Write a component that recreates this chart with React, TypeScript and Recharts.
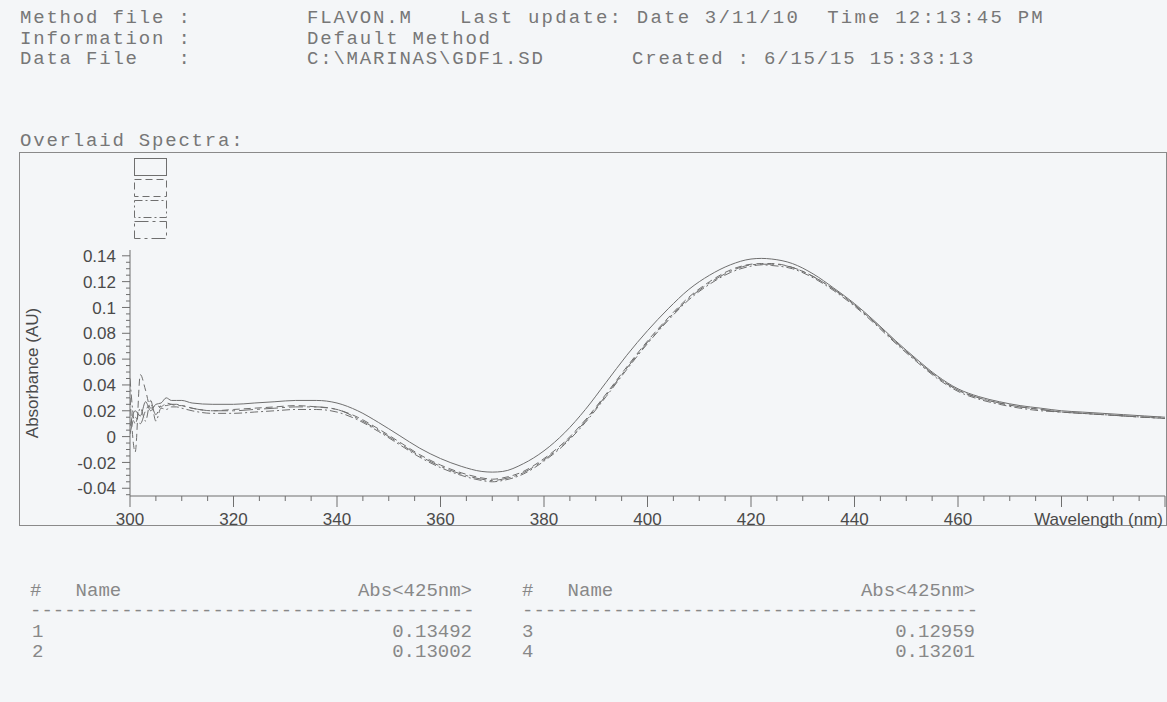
import React from "react";
import { LineChart, Line, XAxis, YAxis, Legend, Label } from "recharts";

// wavelength (nm) of every sample
const wavelengths = [
  300, 301, 302, 303, 304, 305, 306, 307, 308, 309, 310, 312, 316, 320, 324,
  328, 332, 336, 340, 344, 348, 352, 356, 360, 364, 368, 370, 372, 376, 380,
  384, 388, 392, 396, 400, 404, 408, 412, 416, 420, 422, 424, 428, 432, 436,
  440, 444, 448, 452, 456, 460, 464, 468, 472, 476, 480, 484, 488, 492, 496,
  500,
];

// absorbance (AU) of the four overlaid spectra
const abs1 = [
  0.008, 0.02, 0.016, 0.027, 0.02, 0.025, 0.026, 0.03, 0.028, 0.028, 0.028,
  0.026, 0.025, 0.025, 0.026, 0.027, 0.028, 0.028, 0.026, 0.02, 0.011, 0.001,
  -0.009, -0.017, -0.023, -0.027, -0.0275, -0.027, -0.021, -0.011, 0.003,
  0.021, 0.042, 0.063, 0.082, 0.099, 0.114, 0.125, 0.133, 0.1375, 0.138,
  0.1375, 0.134, 0.126, 0.115, 0.103, 0.089, 0.074, 0.06, 0.047, 0.037, 0.031,
  0.027, 0.024, 0.022, 0.02, 0.019, 0.018, 0.017, 0.016, 0.015,
];
const abs2 = [
  0.03, -0.012, 0.048, 0.036, 0.022, 0.024, 0.023, 0.026, 0.025, 0.024, 0.024,
  0.022, 0.02, 0.021, 0.022, 0.023, 0.024, 0.023, 0.021, 0.015, 0.006, -0.004,
  -0.014, -0.022, -0.028, -0.032, -0.033, -0.032, -0.027, -0.017, -0.004,
  0.013, 0.033, 0.054, 0.074, 0.092, 0.108, 0.12, 0.129, 0.1335, 0.134, 0.134,
  0.131, 0.124, 0.114, 0.102, 0.088, 0.073, 0.059, 0.046, 0.036, 0.03, 0.026,
  0.023, 0.021, 0.019, 0.018, 0.017, 0.016, 0.015, 0.014,
];
const abs3 = [
  0.045, 0.01, 0.022, 0.012, 0.028, 0.012, 0.022, 0.021, 0.023, 0.023, 0.022,
  0.02, 0.018, 0.018, 0.019, 0.02, 0.021, 0.021, 0.019, 0.013, 0.004, -0.006,
  -0.016, -0.024, -0.03, -0.034, -0.035, -0.034, -0.029, -0.019, -0.006,
  0.011, 0.031, 0.052, 0.072, 0.09, 0.106, 0.118, 0.127, 0.132, 0.133, 0.1325,
  0.13, 0.123, 0.113, 0.101, 0.087, 0.072, 0.058, 0.045, 0.035, 0.029, 0.025,
  0.022, 0.02, 0.019, 0.018, 0.017, 0.016, 0.015, 0.014,
];
const abs4 = [
  0.002, 0.015, 0.01, 0.02, 0.025, 0.017, 0.024, 0.024, 0.025, 0.025, 0.024,
  0.022, 0.02, 0.02, 0.021, 0.022, 0.023, 0.023, 0.021, 0.014, 0.005, -0.005,
  -0.015, -0.023, -0.029, -0.033, -0.034, -0.033, -0.028, -0.018, -0.005,
  0.012, 0.032, 0.053, 0.073, 0.091, 0.107, 0.119, 0.128, 0.133, 0.1335,
  0.1335, 0.131, 0.124, 0.114, 0.102, 0.088, 0.073, 0.059, 0.046, 0.036, 0.03,
  0.026, 0.023, 0.021, 0.019, 0.018, 0.017, 0.016, 0.015, 0.015,
];

const xTicks = [
  300, 305, 310, 315, 320, 325, 330, 335, 340, 345, 350, 355, 360, 365, 370,
  375, 380, 385, 390, 395, 400, 405, 410, 415, 420, 425, 430, 435, 440, 445,
  450, 455, 460, 465, 470, 475, 480, 485, 490, 495, 500,
];
const xMajorTicks = [300, 320, 340, 360, 380, 400, 420, 440, 460, 480, 500];
const xLabelTicks = [300, 320, 340, 360, 380, 400, 420, 440, 460];

const yTicks = [
  -0.045, -0.04, -0.035, -0.03, -0.025, -0.02, -0.015, -0.01, -0.005, 0, 0.005,
  0.01, 0.015, 0.02, 0.025, 0.03, 0.035, 0.04, 0.045, 0.05, 0.055, 0.06, 0.065,
  0.07, 0.075, 0.08, 0.085, 0.09, 0.095, 0.1, 0.105, 0.11, 0.115, 0.12, 0.125,
  0.13, 0.135, 0.14,
];
const yMajorTicks = [-0.04, -0.02, 0, 0.02, 0.04, 0.06, 0.08, 0.1, 0.12, 0.14];

const headerLabels = ["Method file :", "Information :", "Data File   :"];
const headerValues = ["FLAVON.M", "Default Method", "C:\\MARINAS\\GDF1.SD"];
const lastUpdate = "Last update: Date 3/11/10  Time 12:13:45 PM";
const created = "Created : 6/15/15 15:33:13";

const resultNames = ["1", "2", "3", "4"];
const resultAbs = ["0.13492", "0.13002", "0.12959", "0.13201"];

const seriesKeys = ["s1", "s2", "s3", "s4"];
const seriesDash = ["", "7 4", "8 3 2 3", "14 4 3 4"];

const data = wavelengths.map((nm, i) => ({
  nm,
  s1: abs1[i],
  s2: abs2[i],
  s3: abs3[i],
  s4: abs4[i],
}));

const ink = "#6f6f6f";
const axisFont = "'Liberation Sans', Arial, sans-serif";
const monoFont = "'Liberation Mono', 'Courier New', monospace";

const XTick = (props: any) => {
  const { x, y, payload } = props;
  const v = payload.value;
  const major = xMajorTicks.includes(v);
  return (
    <g>
      <line x1={x} x2={x} y1={y} y2={y + (major ? 11 : 5)} stroke={ink} />
      {xLabelTicks.includes(v) && (
        <text x={x} y={y + 29} textAnchor="middle" fontSize={17} fill="#4a4a4a" fontFamily={axisFont}>
          {v}
        </text>
      )}
    </g>
  );
};

const YTick = (props: any) => {
  const { x, y, payload } = props;
  const v = payload.value;
  const major = yMajorTicks.includes(v);
  return (
    <g>
      <line x1={x - (major ? 8 : 4)} x2={x} y1={y} y2={y} stroke={ink} />
      {major && (
        <text x={x - 14} y={y} dy="0.36em" textAnchor="end" fontSize={17} fill="#4a4a4a" fontFamily={axisFont}>
          {String(Math.round(v * 100) / 100)}
        </text>
      )}
    </g>
  );
};

const LegendBoxes = () => (
  <svg width={34} height={84} style={{ display: "block" }}>
    {seriesDash.map((d, i) => (
      <rect
        key={i}
        x={0.5}
        y={0.5 + i * 21}
        width={32}
        height={17}
        fill="none"
        stroke={ink}
        strokeDasharray={d || undefined}
      />
    ))}
  </svg>
);

// monospaced text; pitch keeps the printer's character spacing
const Mono = ({ x, y, size, pitch, text, right, color }: any) => (
  <div
    style={{
      position: "absolute",
      left: x,
      top: y,
      fontFamily: monoFont,
      fontSize: size,
      lineHeight: `${size - 2}px`,
      letterSpacing: pitch ? `${pitch - size * 0.6}px` : undefined,
      whiteSpace: "pre",
      color: color || "#777",
      transform: right ? "translateX(-100%)" : undefined,
    }}
  >
    {text}
  </div>
);

export default function App() {
  return (
    <div
      style={{
        position: "absolute",
        left: 0,
        top: 0,
        width: 1167,
        height: 702,
        background: "#f4f6f8",
        overflow: "hidden",
      }}
    >
      {headerLabels.map((t, i) => (
        <Mono key={t} x={20} y={10 + i * 20.5} size={19} pitch={13.2} text={t} />
      ))}
      {headerValues.map((t, i) => (
        <Mono key={t} x={307} y={10 + i * 20.5} size={19} pitch={13.2} text={t} />
      ))}
      <Mono x={460} y={10} size={19} pitch={13.6} text={lastUpdate} />
      <Mono x={632} y={51} size={19} pitch={13.2} text={created} />
      <Mono x={20} y={133} size={19} pitch={13.2} text="Overlaid Spectra:" />

      <div
        style={{
          position: "absolute",
          left: 19,
          top: 152,
          width: 1146,
          height: 372,
          border: "1px solid #8a8a8a",
        }}
      />

      <div style={{ position: "absolute", left: 0, top: 0 }}>
        <LineChart
          width={1167}
          height={702}
          data={data}
          margin={{ top: 250, right: 2, left: 0, bottom: 175 }}
        >
          <XAxis
            dataKey="nm"
            type="number"
            domain={[300, 500]}
            ticks={xTicks}
            interval={0}
            tickSize={0}
            tickMargin={0}
            tickLine={false}
            tick={<XTick />}
            height={31}
            axisLine={{ stroke: ink }}
            allowDataOverflow
          >
            <Label
              value="Wavelength (nm)"
              position="insideBottomRight"
              offset={2}
              fill="#4a4a4a"
              fontSize={17}
              fontFamily={axisFont}
            />
          </XAxis>
          <YAxis
            type="number"
            domain={[-0.046, 0.1445]}
            ticks={yTicks}
            interval={0}
            tickSize={0}
            tickMargin={0}
            tickLine={false}
            tick={<YTick />}
            width={130}
            axisLine={{ stroke: ink }}
            allowDataOverflow
          >
            <Label
              value="Absorbance (AU)"
              angle={-90}
              position="insideLeft"
              offset={32}
              style={{ textAnchor: "middle" }}
              fill="#4a4a4a"
              fontSize={17}
              fontFamily={axisFont}
            />
          </YAxis>
          <Legend
            layout="vertical"
            align="center"
            verticalAlign="middle"
            content={() => <LegendBoxes />}
            wrapperStyle={{ left: 134, top: 158, width: 34, height: 84 }}
          />
          {seriesKeys.map((k, i) => (
            <Line
              key={k}
              name={resultNames[i]}
              type="monotone"
              dataKey={k}
              stroke={ink}
              strokeWidth={1}
              strokeDasharray={seriesDash[i] || undefined}
              dot={false}
              isAnimationActive={false}
            />
          ))}
        </LineChart>
      </div>

      <Mono x={30} y={583} size={19} text="#   Name" color="#888" />
      <Mono x={472} y={583} size={19} text="Abs<425nm>" right color="#888" />
      <Mono x={522} y={583} size={19} text="#   Name" color="#888" />
      <Mono x={975} y={583} size={19} text="Abs<425nm>" right color="#888" />
      <Mono x={30} y={603} size={19} text={"-".repeat(39)} color="#888" />
      <Mono x={522} y={603} size={19} text={"-".repeat(40)} color="#888" />
      {[0, 1].map((r) => (
        <React.Fragment key={r}>
          <Mono x={32} y={624 + r * 20} size={19} text={resultNames[r]} color="#888" />
          <Mono x={472} y={624 + r * 20} size={19} text={resultAbs[r]} right color="#888" />
          <Mono x={522} y={624 + r * 20} size={19} text={resultNames[r + 2]} color="#888" />
          <Mono x={975} y={624 + r * 20} size={19} text={resultAbs[r + 2]} right color="#888" />
        </React.Fragment>
      ))}
    </div>
  );
}
